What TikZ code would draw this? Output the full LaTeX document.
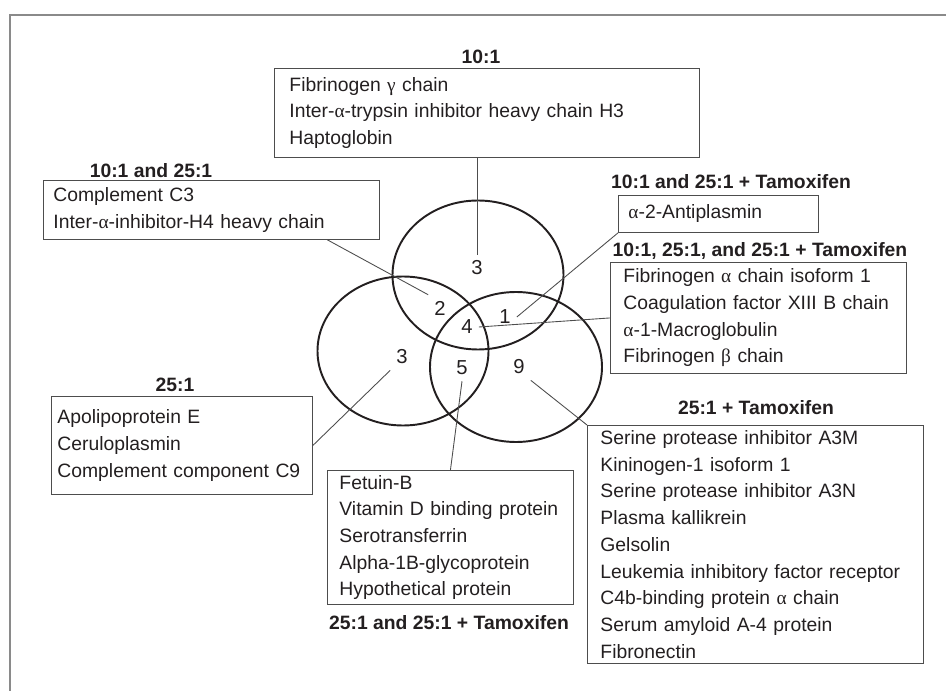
\documentclass[tikz,border=0pt]{standalone}
\usepackage{fontspec}
\setmainfont{Liberation Sans}
\newfontfamily\greekfont{Liberation Serif}
\newcommand{\grk}[1]{{\greekfont #1}}
\definecolor{ink}{HTML}{231F20}
\definecolor{rule}{HTML}{4D4D4D}
\definecolor{frame}{HTML}{8A8A8A}
\tikzset{
  listbox/.style={draw=rule, line width=0.5pt, text=ink, align=left, anchor=north west,
    inner ysep=0pt, font=\fontsize{11pt}{15.2pt}\selectfont},
  head/.style={text=ink, font=\fontsize{11pt}{13pt}\selectfont\bfseries},
  count/.style={text=ink, font=\fontsize{11.5pt}{13pt}\selectfont},
  venn/.style={draw=ink, line width=1.1pt},
}
\begin{document}
\begin{tikzpicture}[x=0.2mm, y=-0.2mm]
  \useasboundingbox (0,0) rectangle (946,691);
  \draw[frame, line width=1.5pt] (10,691) -- (10,15) -- (946,15);
  \draw[venn] (478,275) ellipse [x radius=17.1mm, y radius=14.9mm];
  \draw[venn] (403,351) ellipse [x radius=17.1mm, y radius=14.9mm];
  \draw[venn] (516,367) ellipse [x radius=17.2mm, y radius=15mm];
  \draw
    (477,268) node[count] (c3a){3}
    (440,308) node[count] (c2){2}
    (505,317) node[count] (c1){1}
    (467,327) node[count] (c4){4}
    (402,357) node[count] (c3b){3}
    (462,368) node[count] (c5){5}
    (519,367) node[count] (c9){9};
  \node[listbox, text width=79mm, inner xsep=3mm, minimum height=17.8mm] (only10) at (274,68)
    {Fibrinogen \grk{γ} chain\\Inter-\grk{α}-trypsin inhibitor heavy chain H3\\Haptoglobin};
  \node[listbox, text width=63.2mm, inner xsep=2mm, minimum height=11.8mm] (both10) at (43,180)
    {Complement C3\\Inter-\grk{α}-inhibitor-H4 heavy chain};
  \node[listbox, text width=36mm, inner xsep=2mm, minimum height=7.4mm] (tam10) at (618,195)
    {\grk{α}-2-Antiplasmin};
  \node[listbox, text width=54mm, inner xsep=2.6mm, minimum height=22.2mm] (all) at (610,262)
    {Fibrinogen \grk{α} chain isoform 1\\Coagulation factor XIII B chain\\\grk{α}-1-Macroglobulin\\Fibrinogen \grk{β} chain};
  \node[listbox, text width=49.8mm, inner xsep=1.2mm, minimum height=19.6mm] (only25) at (51,396)
    {Apolipoprotein E\\Ceruloplasmin\\Complement component C9};
  \node[listbox, text width=44.4mm, inner xsep=2.4mm, minimum height=26.8mm] (both25) at (327,470)
    {Fetuin-B\\Vitamin D binding protein\\Serotransferrin\\Alpha-1B-glycoprotein\\Hypothetical protein};
  \node[listbox, text width=62mm, inner xsep=2.6mm, minimum height=47.6mm] (onlytam) at (587,425)
    {Serine protease inhibitor A3M\\Kininogen-1 isoform 1\\Serine protease inhibitor A3N\\Plasma kallikrein\\Gelsolin\\Leukemia inhibitory factor receptor\\C4b-binding protein \grk{α} chain\\Serum amyloid A-4 protein\\Fibronectin};
  \node[head] (only10h) at (481,57) {10:1};
  \node[head] (both10h) at (151,171) {10:1 and 25:1};
  \node[head] (tam10h) at (731,182) {10:1 and 25:1 + Tamoxifen};
  \node[head] (allh) at (760,251) {10:1, 25:1, and 25:1 + Tamoxifen};
  \node[head] (only25h) at (175,385) {25:1};
  \node[head] (both25h) at (449,623) {25:1 and 25:1 + Tamoxifen};
  \node[head] (onlytamh) at (756,408) {25:1 + Tamoxifen};
  \begin{scope}[draw=rule, line width=0.5pt]
    \draw (c3a.north) -- (c3a.north |- only10.south);
    \draw (c2.north west) -- ([xshift=23.2mm]both10.south);
    \draw (c1.east) -- (tam10.south west);
    \draw (c4.east) -- (all.west);
    \draw (c3b.south west) -- (only25.east);
    \draw (c5.south) -- (both25.north);
    \draw (c9.south east) -- (onlytam.north west);
  \end{scope}
\end{tikzpicture}
\end{document}
